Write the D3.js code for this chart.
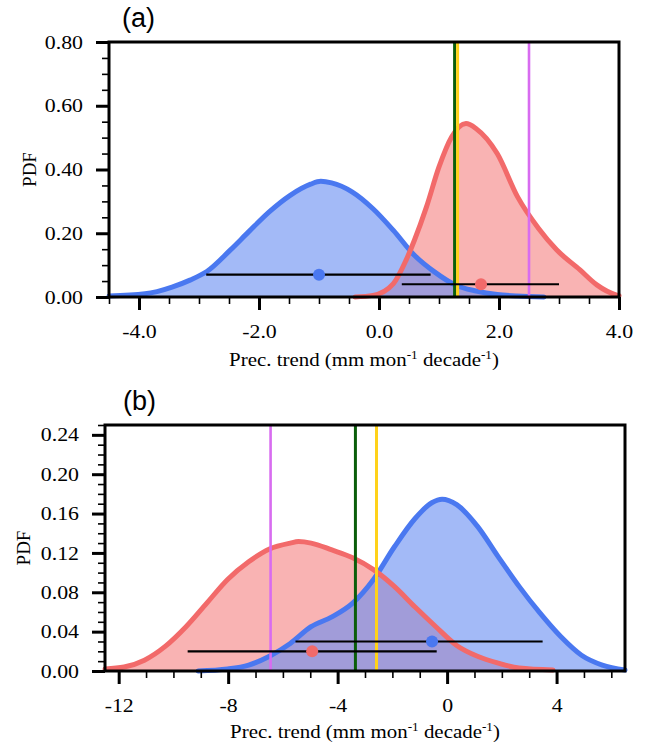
<!DOCTYPE html>
<html>
<head>
<meta charset="utf-8">
<script src="https://cdn.jsdelivr.net/npm/d3@7"></script>
<style>
  html, body { margin: 0; padding: 0; background: #fff; }
  svg { display: block; }
</style>
</head>
<body>
<svg id="chart" width="650" height="751"></svg>
<script>
// ---------- Panel (a) data ----------
const aBlueX = [-4.5, -3.9, -3.7, -3.45, -3.15, -2.87, -2.48, -2.17, -1.83, -1.48, -1.14, -0.97, -0.79, -0.45, -0.1, 0.24, 0.59, 0.93, 1.28, 1.62, 1.97, 2.3, 2.75];
const aBlueY = [0.003, 0.01, 0.017, 0.031, 0.053, 0.08, 0.147, 0.205, 0.267, 0.319, 0.354, 0.363, 0.358, 0.33, 0.277, 0.209, 0.131, 0.078, 0.037, 0.019, 0.008, 0.003, 0.0];
const aRedX = [-0.4, -0.1, 0.24, 0.45, 0.59, 0.79, 1.0, 1.21, 1.45, 1.62, 1.97, 2.31, 2.66, 2.96, 3.35, 3.63, 3.96, 4.0];
const aRedY = [0.0, 0.005, 0.042, 0.115, 0.178, 0.282, 0.408, 0.502, 0.544, 0.528, 0.45, 0.314, 0.215, 0.148, 0.085, 0.038, 0.006, 0.004];
const aLinesX = { green: 1.26, yellow: 1.31, purple: 2.5 };
const aBlueBar = { lo: -2.88, hi: 0.86, mean: -1.0, y: 0.07 };
const aRedBar = { lo: 0.38, hi: 3.0, mean: 1.7, y: 0.04 };
const aXMajor = [-4, -2, 0, 2, 4];
const aXMinor = [-4.5, -3.5, -3, -2.5, -1.5, -1, -0.5, 0.5, 1, 1.5, 2.5, 3, 3.5];
const aYMajor = [0, 0.2, 0.4, 0.6, 0.8];
const aYMinor = [0.05, 0.1, 0.15, 0.25, 0.3, 0.35, 0.45, 0.5, 0.55, 0.65, 0.7, 0.75];

// ---------- Panel (b) data ----------
const bRedX = [-12.5, -11.8, -11.06, -10.3, -9.54, -8.78, -8.02, -7.25, -6.49, -5.73, -5.43, -4.97, -4.21, -3.45, -2.69, -1.93, -1.17, -0.41, 0.35, 1.11, 1.87, 2.63, 3.87];
const bRedY = [0.002, 0.004, 0.011, 0.025, 0.045, 0.069, 0.093, 0.111, 0.124, 0.130, 0.1315, 0.130, 0.123, 0.115, 0.103, 0.086, 0.065, 0.045, 0.026, 0.015, 0.008, 0.003, 0.001];
const bBlueX = [-9.1, -8.02, -7.25, -6.49, -5.73, -4.97, -4.21, -3.45, -2.69, -1.93, -1.17, -0.56, -0.18, 0.35, 1.11, 1.87, 2.63, 3.39, 4.15, 4.91, 5.67, 6.5];
const bBlueY = [0.0, 0.002, 0.006, 0.015, 0.028, 0.045, 0.055, 0.069, 0.093, 0.126, 0.155, 0.171, 0.1746, 0.169, 0.147, 0.116, 0.086, 0.059, 0.035, 0.016, 0.006, 0.001];
const bLinesX = { purple: -6.45, green: -3.35, yellow: -2.58 };
const bBlueBar = { lo: -5.54, hi: 3.49, mean: -0.55, y: 0.03 };
const bRedBar = { lo: -9.48, hi: -0.38, mean: -4.93, y: 0.02 };
const bXMajor = [-12, -8, -4, 0, 4];
const bXMinor = d3.range(-12, 7, 1).filter(v => v % 4 !== 0);
const bYMajor = [0, 0.04, 0.08, 0.12, 0.16, 0.2, 0.24];
const bYMinor = d3.range(0, 26, 1).filter(v => v % 4 !== 0).map(v => v / 100);

// ---------- styling ----------
const C = {
  blueLine: "#4a78f0", blueFill: "rgba(102,140,242,0.6)",
  redLine: "#f26a6a", redFill: "#f9b3b3",
  green: "#0b5e0b", yellow: "#ffd21a", purple: "#d86cf0",
  blueDot: "#4a78f0", redDot: "#f26a6a"
};
const serif = "'Liberation Serif', 'Times New Roman', serif";
const sans = "'Liberation Sans', Arial, sans-serif";
const hy = f => v => f(v).replace("\u2212", "-");
const SX = 1.15; // horizontal stretch of the serif texts

const svg = d3.select("#chart");

function panel(cfg) {
  const x = d3.scaleLinear().domain(cfg.xDomain).range([cfg.left, cfg.right]);
  const y = d3.scaleLinear().domain(cfg.yDomain).range([cfg.bottom, cfg.top]);
  const g = svg.append("g");

  const area = d3.area().x(d => x(d[0])).y0(y(0)).y1(d => y(d[1])).curve(d3.curveMonotoneX);
  const line = d3.line().x(d => x(d[0])).y(d => y(d[1])).curve(d3.curveMonotoneX);

  const red = cfg.redX.map((v, i) => [v, cfg.redY[i]]);
  const blue = cfg.blueX.map((v, i) => [v, cfg.blueY[i]]);

  g.append("path").attr("d", area(red)).attr("fill", C.redFill);
  g.append("path").attr("d", area(blue)).attr("fill", C.blueFill);

  [[blue, C.blueLine], [red, C.redLine]].forEach(([d, c]) => {
    g.append("path").attr("d", line(d)).attr("fill", "none")
      .attr("stroke", c).attr("stroke-width", 5).attr("stroke-linejoin", "round").attr("stroke-linecap", "round");
  });

  // vertical reference lines
  Object.entries(cfg.vlines).forEach(([k, v]) => {
    g.append("line").attr("x1", x(v)).attr("x2", x(v))
      .attr("y1", cfg.top).attr("y2", cfg.bottom)
      .attr("stroke", C[k]).attr("stroke-width", k === "purple" ? 2.6 : 3);
  });

  // error bars
  [[cfg.blueBar, C.blueDot], [cfg.redBar, C.redDot]].forEach(([b, c]) => {
    g.append("line").attr("x1", x(b.lo)).attr("x2", x(b.hi))
      .attr("y1", y(b.y)).attr("y2", y(b.y)).attr("stroke", "#000").attr("stroke-width", 2.2);
    g.append("circle").attr("cx", x(b.mean)).attr("cy", y(b.y)).attr("r", 6).attr("fill", c);
  });

  // frame
  g.append("rect").attr("x", cfg.left).attr("y", cfg.top)
    .attr("width", cfg.right - cfg.left).attr("height", cfg.bottom - cfg.top)
    .attr("fill", "none").attr("stroke", "#000").attr("stroke-width", 3);

  // axes
  const xMaj = d3.axisBottom(x).tickValues(cfg.xMajor).tickSize(13).tickPadding(15).tickSizeOuter(0).tickFormat(hy(cfg.xFmt));
  const xMin = d3.axisBottom(x).tickValues(cfg.xMinor).tickSize(7).tickSizeOuter(0).tickFormat("");
  const yMaj = d3.axisLeft(y).tickValues(cfg.yMajor).tickSize(13).tickPadding(13).tickSizeOuter(0).tickFormat(d3.format(".2f"));
  const yMin = d3.axisLeft(y).tickValues(cfg.yMinor).tickSize(7).tickSizeOuter(0).tickFormat("");

  const style = (sel, w) => {
    sel.attr("font-family", serif).attr("font-size", 19);
    sel.select(".domain").remove();
    sel.selectAll(".tick line").attr("stroke", "#000").attr("stroke-width", w);
    sel.selectAll(".tick text").attr("fill", "#000")
      .attr("x", function () { return (+this.getAttribute("x") || 0) / SX; })
      .attr("transform", `scale(${SX},1)`);
  };
  const gx1 = g.append("g").attr("transform", `translate(0,${cfg.bottom})`).call(xMin); style(gx1, 1.6);
  const gx2 = g.append("g").attr("transform", `translate(0,${cfg.bottom})`).call(xMaj); style(gx2, 3);
  const gy1 = g.append("g").attr("transform", `translate(${cfg.left},0)`).call(yMin); style(gy1, 1.6);
  const gy2 = g.append("g").attr("transform", `translate(${cfg.left},0)`).call(yMaj); style(gy2, 3);

  // x label
  const xl = g.append("text")
    .attr("transform", `translate(${(cfg.left + cfg.right) / 2},${cfg.xLabelY}) scale(1.1,1)`)
    .attr("text-anchor", "middle").attr("font-family", serif).attr("font-size", 19).attr("fill", "#000");
  xl.append("tspan").text("Prec. trend (mm mon");
  xl.append("tspan").text("-1").attr("dy", -7).attr("font-size", 12);
  xl.append("tspan").text(" decade").attr("dy", 7);
  xl.append("tspan").text("-1").attr("dy", -7).attr("font-size", 12);
  xl.append("tspan").text(")").attr("dy", 7);

  // y label
  g.append("text").attr("transform", `translate(${cfg.yLabelX},${(cfg.top + cfg.bottom) / 2}) rotate(-90)`)
    .attr("text-anchor", "middle").attr("font-family", serif).attr("font-size", 19).attr("fill", "#000").text("PDF");

  // panel letter
  g.append("text").attr("x", cfg.tagX).attr("y", cfg.tagY).attr("font-family", sans)
    .attr("font-size", 27).attr("fill", "#000").text(cfg.tag);
}

panel({
  left: 109, right: 619, top: 42, bottom: 297,
  xDomain: [-4.5, 4.0], yDomain: [0, 0.8],
  redX: aRedX, redY: aRedY, blueX: aBlueX, blueY: aBlueY,
  vlines: aLinesX, blueBar: aBlueBar, redBar: aRedBar,
  xMajor: aXMajor, xMinor: aXMinor, yMajor: aYMajor, yMinor: aYMinor,
  xFmt: d3.format(".1f"), xLabelY: 366, yLabelX: 36, tag: "(a)", tagX: 122, tagY: 27
});

panel({
  left: 105, right: 625, top: 425, bottom: 671,
  xDomain: [-12.5, 6.5], yDomain: [0, 0.25],
  redX: bRedX, redY: bRedY, blueX: bBlueX, blueY: bBlueY,
  vlines: bLinesX, blueBar: bBlueBar, redBar: bRedBar,
  xMajor: bXMajor, xMinor: bXMinor, yMajor: bYMajor, yMinor: bYMinor,
  xFmt: d3.format("d"), xLabelY: 738, yLabelX: 30, tag: "(b)", tagX: 123, tagY: 410
});
</script>
</body>
</html>
